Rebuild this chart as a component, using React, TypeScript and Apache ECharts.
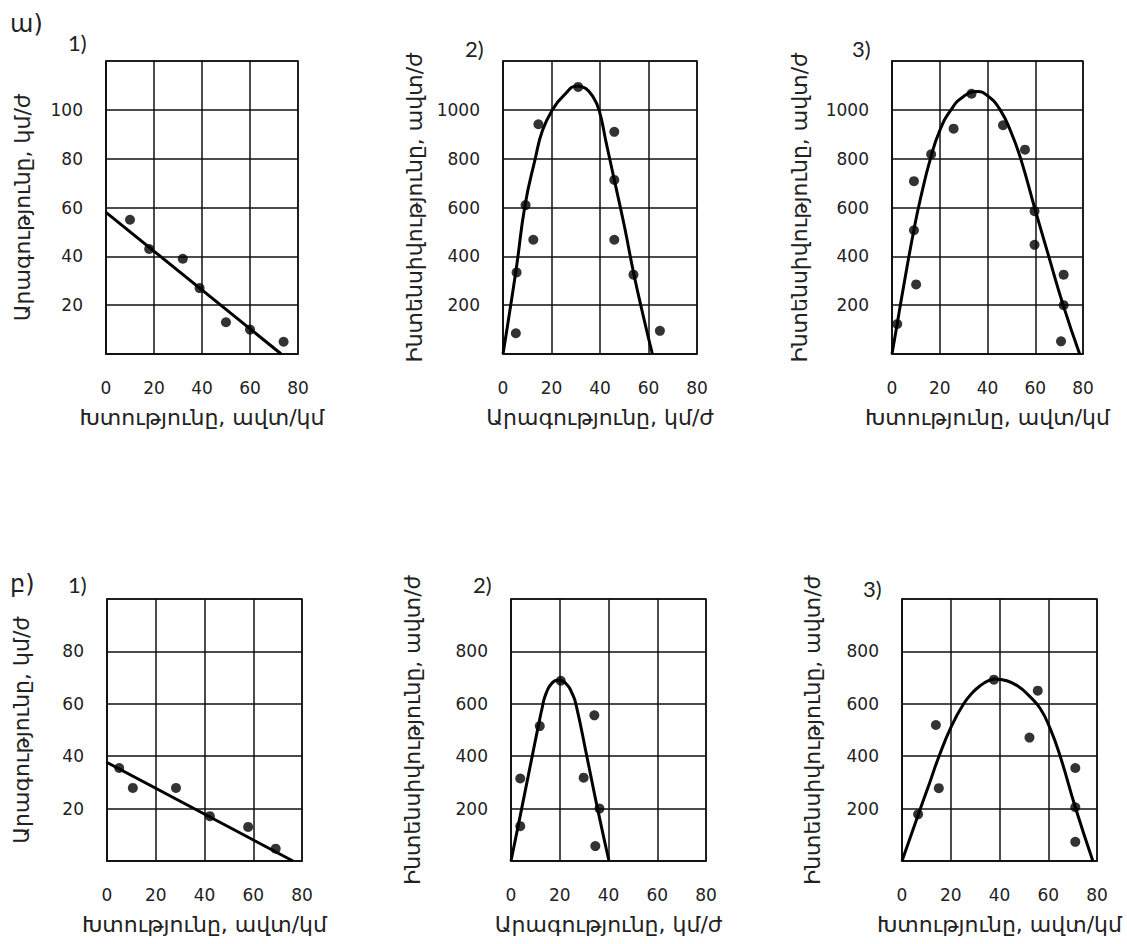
import React, { useEffect, useRef } from "react";
import * as echarts from "echarts";

// ---- Data ----

// ա) 1) speed vs density
const a1DotX = [10, 18, 32, 39, 50, 60, 74];
const a1DotY = [55, 43, 39, 27, 13, 10, 5];
const a1LineX = [0, 73];
const a1LineY = [58, 0];

// ա) 2) flow vs speed
const a2DotX = [5.3, 5.6, 9.3, 12.5, 14.6, 31, 45.9, 45.9, 45.9, 53.8, 64.7];
const a2DotY = [85, 334, 610, 468, 941, 1094, 910, 713, 468, 325, 95];
const a2CurveX = [0, 5.4, 9.1, 13.3, 16.3, 20.4, 25, 30.8, 34, 37, 39.6, 42.5, 45.9, 50, 53.8, 57.5, 61.6];
const a2CurveY = [0, 345, 610, 800, 916, 1000, 1058, 1098, 1088, 1055, 1000, 868, 713, 526, 335, 170, 0];

// ա) 3) flow vs density
const a3DotX = [2.2, 9.2, 9.2, 10.1, 16.4, 25.8, 33.3, 46.5, 55.7, 59.7, 59.7, 71.9, 71.9, 70.8];
const a3DotY = [123, 708, 507, 285, 818, 923, 1066, 937, 837, 585, 447, 325, 200, 52];
const a3CurveX = [0, 2.2, 5, 9.2, 12, 16.1, 20, 24.7, 30, 35.8, 40, 45.3, 50, 53.9, 59.7, 65.5, 71.7, 78.6];
const a3CurveY = [0, 125, 285, 510, 640, 800, 915, 1000, 1055, 1075, 1058, 1000, 905, 800, 600, 405, 200, 0];

// բ) 1) speed vs density
const b1DotX = [5, 10.6, 28.3, 42.2, 57.9, 69.2];
const b1DotY = [35.5, 27.9, 27.9, 17.1, 13, 4.7];
const b1LineX = [0, 76.3];
const b1LineY = [37.6, 0];

// բ) 2) flow vs speed
const b2DotX = [3.8, 3.8, 11.8, 20.4, 29.8, 34.2, 36.3, 34.6];
const b2DotY = [133, 315, 515, 688, 318, 556, 200, 57];
const b2CurveX = [0, 3.4, 7.4, 11.2, 12.8, 14.2, 16.9, 20, 23, 25, 26.6, 31.1, 35.5, 40.2];
const b2CurveY = [0, 155, 340, 515, 585, 635, 680, 690, 673, 641, 600, 400, 200, 0];

// բ) 3) flow vs density
const b3DotX = [6.6, 13.9, 15.1, 37.7, 52.3, 55.7, 71.1, 71.1, 71.1];
const b3DotY = [178, 519, 278, 692, 471, 650, 355, 205, 73];
const b3CurveX = [0, 6.8, 11.4, 15.2, 20.3, 25.3, 29, 32.2, 35.5, 38.3, 43, 47.5, 52, 56.7, 60.8, 64.9, 71.1, 78.3];
const b3CurveY = [0, 180, 300, 400, 515, 600, 643, 670, 688, 695, 688, 668, 632, 582, 505, 400, 205, 0];

const nameSpeed = "Արագությունը, կմ/ժ";
const nameDensity = "Խտությունը, ավտ/կմ";
const nameFlow = "Ինտենսիվությունը, ավտ/ժ";

const zip = (xs: number[], ys: number[]) => xs.map((x, i) => [x, ys[i]]);

const NUM_FONT = "'DejaVu Sans', sans-serif";
const ARM_FONT = "'DejaVu Sans', sans-serif";
const PANEL_FONT = "Lato, 'Open Sans', sans-serif";

type Panel = {
  grid: { left: number; top: number; width: number; height: number };
  yMax: number;
  yInterval: number;
  xName: string;
  yName: string;
  yGap: number;
  dotX: number[];
  dotY: number[];
  lineX: number[];
  lineY: number[];
  smooth: boolean;
};

const panels: Panel[] = [
  { grid: { left: 106, top: 61, width: 192, height: 293 }, yMax: 120, yInterval: 20, xName: nameDensity, yName: nameSpeed, yGap: 73, dotX: a1DotX, dotY: a1DotY, lineX: a1LineX, lineY: a1LineY, smooth: false },
  { grid: { left: 503, top: 61, width: 194, height: 293 }, yMax: 1200, yInterval: 200, xName: nameSpeed, yName: nameFlow, yGap: 78, dotX: a2DotX, dotY: a2DotY, lineX: a2CurveX, lineY: a2CurveY, smooth: true },
  { grid: { left: 892, top: 61, width: 191, height: 293 }, yMax: 1200, yInterval: 200, xName: nameDensity, yName: nameFlow, yGap: 82, dotX: a3DotX, dotY: a3DotY, lineX: a3CurveX, lineY: a3CurveY, smooth: true },
  { grid: { left: 107, top: 599, width: 195, height: 262 }, yMax: 100, yInterval: 20, xName: nameDensity, yName: nameSpeed, yGap: 75, dotX: b1DotX, dotY: b1DotY, lineX: b1LineX, lineY: b1LineY, smooth: false },
  { grid: { left: 511, top: 599, width: 195, height: 262 }, yMax: 1000, yInterval: 200, xName: nameSpeed, yName: nameFlow, yGap: 88, dotX: b2DotX, dotY: b2DotY, lineX: b2CurveX, lineY: b2CurveY, smooth: true },
  { grid: { left: 902, top: 599, width: 195, height: 262 }, yMax: 1000, yInterval: 200, xName: nameDensity, yName: nameFlow, yGap: 79, dotX: b3DotX, dotY: b3DotY, lineX: b3CurveX, lineY: b3CurveY, smooth: true },
];

const labels = [
  { text: "ա)", x: 10, y: 12, size: 24, font: ARM_FONT },
  { text: "1)", x: 68, y: 31, size: 22, font: PANEL_FONT },
  { text: "2)", x: 465, y: 37, size: 22, font: PANEL_FONT },
  { text: "3)", x: 852, y: 37, size: 22, font: PANEL_FONT },
  { text: "բ)", x: 10, y: 572, size: 24, font: ARM_FONT },
  { text: "1)", x: 68, y: 573, size: 22, font: PANEL_FONT },
  { text: "2)", x: 473, y: 573, size: 22, font: PANEL_FONT },
  { text: "3)", x: 863, y: 577, size: 22, font: PANEL_FONT },
];

export default function App() {
  const ref = useRef<HTMLDivElement>(null);
  useEffect(() => {
    if (!ref.current) return;
    const chart = echarts.init(ref.current, undefined, { renderer: "svg" });
    const option: any = {
      animation: false,
      backgroundColor: "#ffffff",
      grid: panels.map((p) => ({
        ...p.grid,
        show: true,
        borderColor: "#111",
        borderWidth: 1.5,
        containLabel: false,
      })),
      xAxis: panels.map((p, i) => ({
        type: "value",
        gridIndex: i,
        min: 0,
        max: 80,
        interval: 20,
        name: p.xName,
        nameLocation: "middle",
        nameGap: 52,
        nameTextStyle: { fontFamily: ARM_FONT, fontSize: 22, color: "#222" },
        axisLine: { show: true, lineStyle: { color: "#111", width: 1.5 } },
        axisTick: { show: false },
        axisLabel: {
          margin: 25,
          fontFamily: NUM_FONT,
          fontSize: 17,
          color: "#222",
          formatter: (v: number) => String(v),
        },
        splitLine: { show: true, lineStyle: { color: "#111", width: 1.5 } },
      })),
      yAxis: panels.map((p, i) => ({
        type: "value",
        gridIndex: i,
        min: 0,
        max: p.yMax,
        interval: p.yInterval,
        name: p.yName,
        nameLocation: "middle",
        nameGap: p.yGap,
        nameRotate: 90,
        nameTextStyle: { fontFamily: ARM_FONT, fontSize: 22, color: "#222" },
        axisLine: { show: true, lineStyle: { color: "#111", width: 1.5 } },
        axisTick: { show: false },
        axisLabel: {
          margin: 23,
          fontFamily: NUM_FONT,
          fontSize: 17,
          color: "#222",
          showMinLabel: false,
          showMaxLabel: false,
          formatter: (v: number) => String(v),
        },
        splitLine: { show: true, lineStyle: { color: "#111", width: 1.5 } },
      })),
      series: panels.flatMap((p, i) => [
        {
          type: "line",
          xAxisIndex: i,
          yAxisIndex: i,
          data: zip(p.lineX, p.lineY),
          smooth: p.smooth ? 0.5 : false,
          showSymbol: false,
          symbol: "none",
          lineStyle: { color: "#000", width: 3 },
          z: 3,
        },
        {
          type: "scatter",
          xAxisIndex: i,
          yAxisIndex: i,
          data: zip(p.dotX, p.dotY),
          symbol: "circle",
          symbolSize: 10,
          itemStyle: { color: "#000" },
          z: 4,
        },
      ]),
      graphic: labels.map((l) => ({
        type: "text",
        left: l.x,
        top: l.y,
        style: { text: l.text, font: `${l.size}px ${l.font}`, fill: "#222" },
      })),
    };
    chart.setOption(option);
    return () => chart.dispose();
  }, []);
  return (
    <div
      ref={ref}
      style={{ position: "absolute", left: 0, top: 0, width: 1127, height: 944 }}
    />
  );
}
